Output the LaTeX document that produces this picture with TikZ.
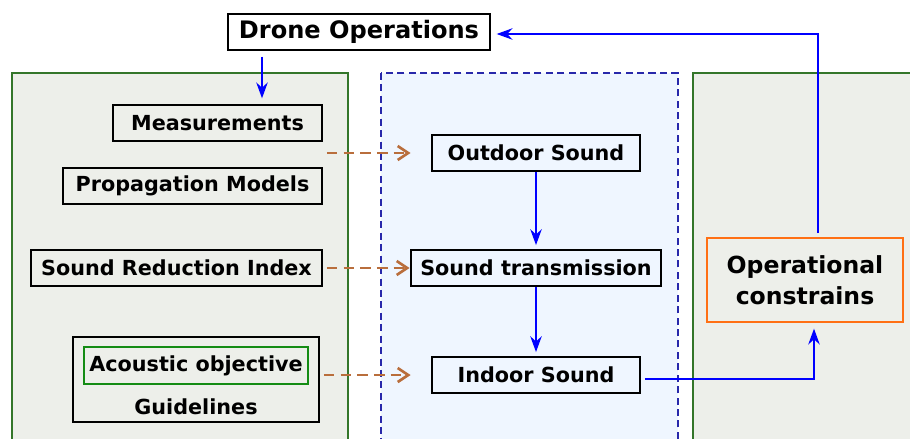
\documentclass[tikz,border=0pt]{standalone}
\usepackage{fontspec}
\setmainfont{DejaVu Sans}
\usepackage{xcolor}
\usetikzlibrary{arrows.meta}

\definecolor{panelgray}{RGB}{237,239,234}
\definecolor{panelgreen}{RGB}{52,118,42}
\definecolor{paneblue}{RGB}{239,246,255}
\definecolor{dashblue}{RGB}{40,40,170}
\definecolor{feedbrown}{RGB}{185,110,60}
\definecolor{opsorange}{RGB}{255,112,20}
\definecolor{objgreen}{RGB}{20,140,20}

\tikzset{
  block/.style={draw=black, line width=1.6pt, inner sep=0pt, minimum height=0.72cm,
    font=\bfseries\fontsize{11.8}{13}\selectfont},
  flow/.style={-{Stealth[length=9pt,width=6.5pt,inset=3pt]}, blue, line width=1.3pt},
  feed/.style={-{Straight Barb[length=6pt,width=8pt]}, feedbrown, line width=1.5pt,
    dash pattern=on 6pt off 3.5pt},
}

\begin{document}
\begin{tikzpicture}[x=0.02cm, y=-0.02cm]
  \useasboundingbox (0,0) rectangle (910,439);
  % panels
  \draw[panelgreen, fill=panelgray, line width=0.9pt] (12,73) rectangle (348,450);
  \draw[dashblue, fill=paneblue, line width=0.9pt, dash pattern=on 4pt off 2.5pt] (381,73) rectangle (678,450);
  \draw[panelgreen, fill=panelgray, line width=0.9pt] (693,73) rectangle (925,450);

  % top
  \node[block, minimum width=5.24cm, font=\bfseries\fontsize{13.7}{15}\selectfont] (drone) at (359,32) {Drone Operations};

  % left column
  \node[block, minimum width=4.18cm] (meas) at (217.5,123) {Measurements};
  \node[block, minimum width=5.18cm] (prop) at (192.5,186) {Propagation Models};
  \node[block, minimum width=5.82cm] (sri) at (176.5,268) {Sound Reduction Index};
  \node[draw=black, line width=1.6pt, minimum width=4.92cm, minimum height=1.7cm] (guide) at (196,379.5) {};
  \node[block, draw=objgreen, minimum width=4.48cm, minimum height=0.74cm] (obj) at (196,365.5) {Acoustic objective};
  \node[font=\bfseries\fontsize{11.8}{13}\selectfont] (guidetxt) at (196,407) {Guidelines};

  % middle column
  \node[block, minimum width=4.16cm] (outdoor) at (536,153) {Outdoor Sound};
  \node[block, minimum width=5.0cm] (trans) at (536,268) {Sound transmission};
  \node[block, minimum width=4.16cm] (indoor) at (536,375) {Indoor Sound};

  % right column
  \node[block, draw=opsorange, minimum width=3.92cm, minimum height=1.68cm, align=center,
    font=\bfseries\fontsize{13.4}{17.6}\selectfont] (ops) at (805,280) {Operational\\constrains};

  % connectors
  \coordinate (dropx) at (262,0);
  \draw[flow, shorten <=3pt, shorten >=3pt] (drone.south -| dropx) -- (meas.north -| dropx);
  \draw[feed, shorten <=2pt, shorten >=0.4cm] (meas.east |- outdoor.west) -- (outdoor.west);
  \draw[feed, shorten <=2pt] (sri.east) -- (trans.west);
  \draw[feed, shorten <=2pt, shorten >=0.4cm] (guide.east |- indoor.west) -- (indoor.west);
  \draw[flow, shorten >=2pt] (outdoor.south) -- (trans.north);
  \draw[flow, shorten >=2pt] (trans.south) -- (indoor.north);
  \draw[flow, shorten <=2pt, shorten >=3pt] ([yshift=-0.08cm]indoor.east) -| ([xshift=0.18cm]ops.south);
  \draw[flow, shorten <=2pt, shorten >=3pt] ([xshift=0.26cm]ops.north) |- ([yshift=-0.04cm]drone.east);
\end{tikzpicture}
\end{document}
